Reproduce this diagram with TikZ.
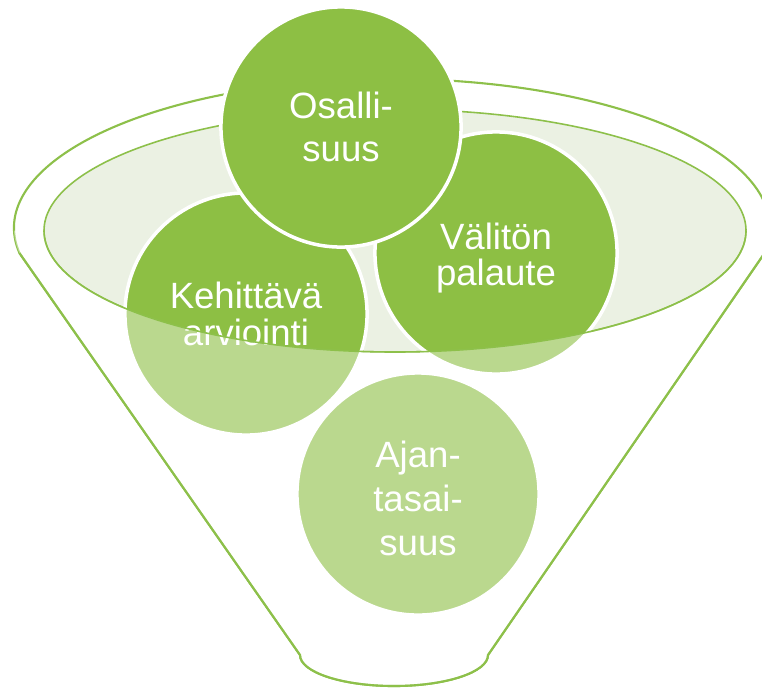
\documentclass[tikz,border=0pt]{standalone}
\usepackage{fontspec}
\setmainfont{Liberation Sans}
\definecolor{leafgreen}{HTML}{8DBF44}
\definecolor{rimgreen}{HTML}{8DC04A}
\definecolor{palegreen}{HTML}{EBF1E3}
\newcommand{\bubblefont}[1]{\fontsize{10.4}{#1}\selectfont}

\begin{document}
\begin{tikzpicture}[x=0.01cm,y=0.01cm,
  bubble/.style={circle,fill=leafgreen,draw=white,line width=1pt,
    minimum size=2.42cm,inner sep=0pt},
  bubbletext/.style={inner sep=0pt,text=white,align=center}]
  \useasboundingbox (0,0) rectangle (762,687);
  \coordinate (tl) at (19.4,434);
  \coordinate (tr) at (764.6,434);
  \coordinate (bl) at (300,32);
  \coordinate (br) at (488,32);
  \coordinate (rimleft) at (44,456.3);
  % funnel
  \draw[rimgreen,line width=0.6pt,fill=white] (tl)
    arc[start angle=189.7,end angle=-9.7,x radius=378,y radius=149] -- (br)
    arc[start angle=0,end angle=-180,x radius=94,y radius=31] -- cycle;
  \draw[rimgreen,line width=0.45pt,fill=palegreen] (395,456.3)
    ellipse[x radius=351,y radius=121.3];
  % bubbles
  \node[bubble] (kehit) at (246,373) {};
  \node[bubble] (valiton) at (496,434) {};
  \node[bubble] (ajan) at (418,193) {};
  \node[bubble,minimum size=2.4cm] (osal) at (341,560) {};
  \node[bubbletext,font=\bubblefont{10.5}] (kehit-t) at (kehit.center) {Kehittävä\\arviointi};
  \node[bubbletext,font=\bubblefont{10}] (valiton-t) at ([yshift=-0.05cm]valiton.center) {Välitön\\palaute};
  \node[bubbletext,font=\bubblefont{12.4}] (ajan-t) at ([yshift=-0.045cm]ajan.center) {Ajan-\\tasai-\\suus};
  \node[bubbletext,font=\bubblefont{12.2}] (osal-t) at (osal.center) {Osalli-\\suus};
  % front of the funnel
  \begin{scope}
    \clip (tl) arc[start angle=189.7,end angle=-9.7,x radius=378,y radius=149] -- (br)
      arc[start angle=0,end angle=-180,x radius=94,y radius=31] -- cycle;
    \fill[white,opacity=0.4] (rimleft)
      arc[start angle=180,end angle=360,x radius=351,y radius=121.3]
      -- (780,456.3) -- (780,-20) -- (-20,-20) -- (-20,456.3) -- cycle;
  \end{scope}
  \draw[rimgreen,line width=0.45pt] (rimleft)
    arc[start angle=180,end angle=360,x radius=351,y radius=121.3];
  \draw[rimgreen,line width=0.6pt] (tl) -- (bl)
    arc[start angle=180,end angle=360,x radius=94,y radius=31] -- (tr);
\end{tikzpicture}
\end{document}
